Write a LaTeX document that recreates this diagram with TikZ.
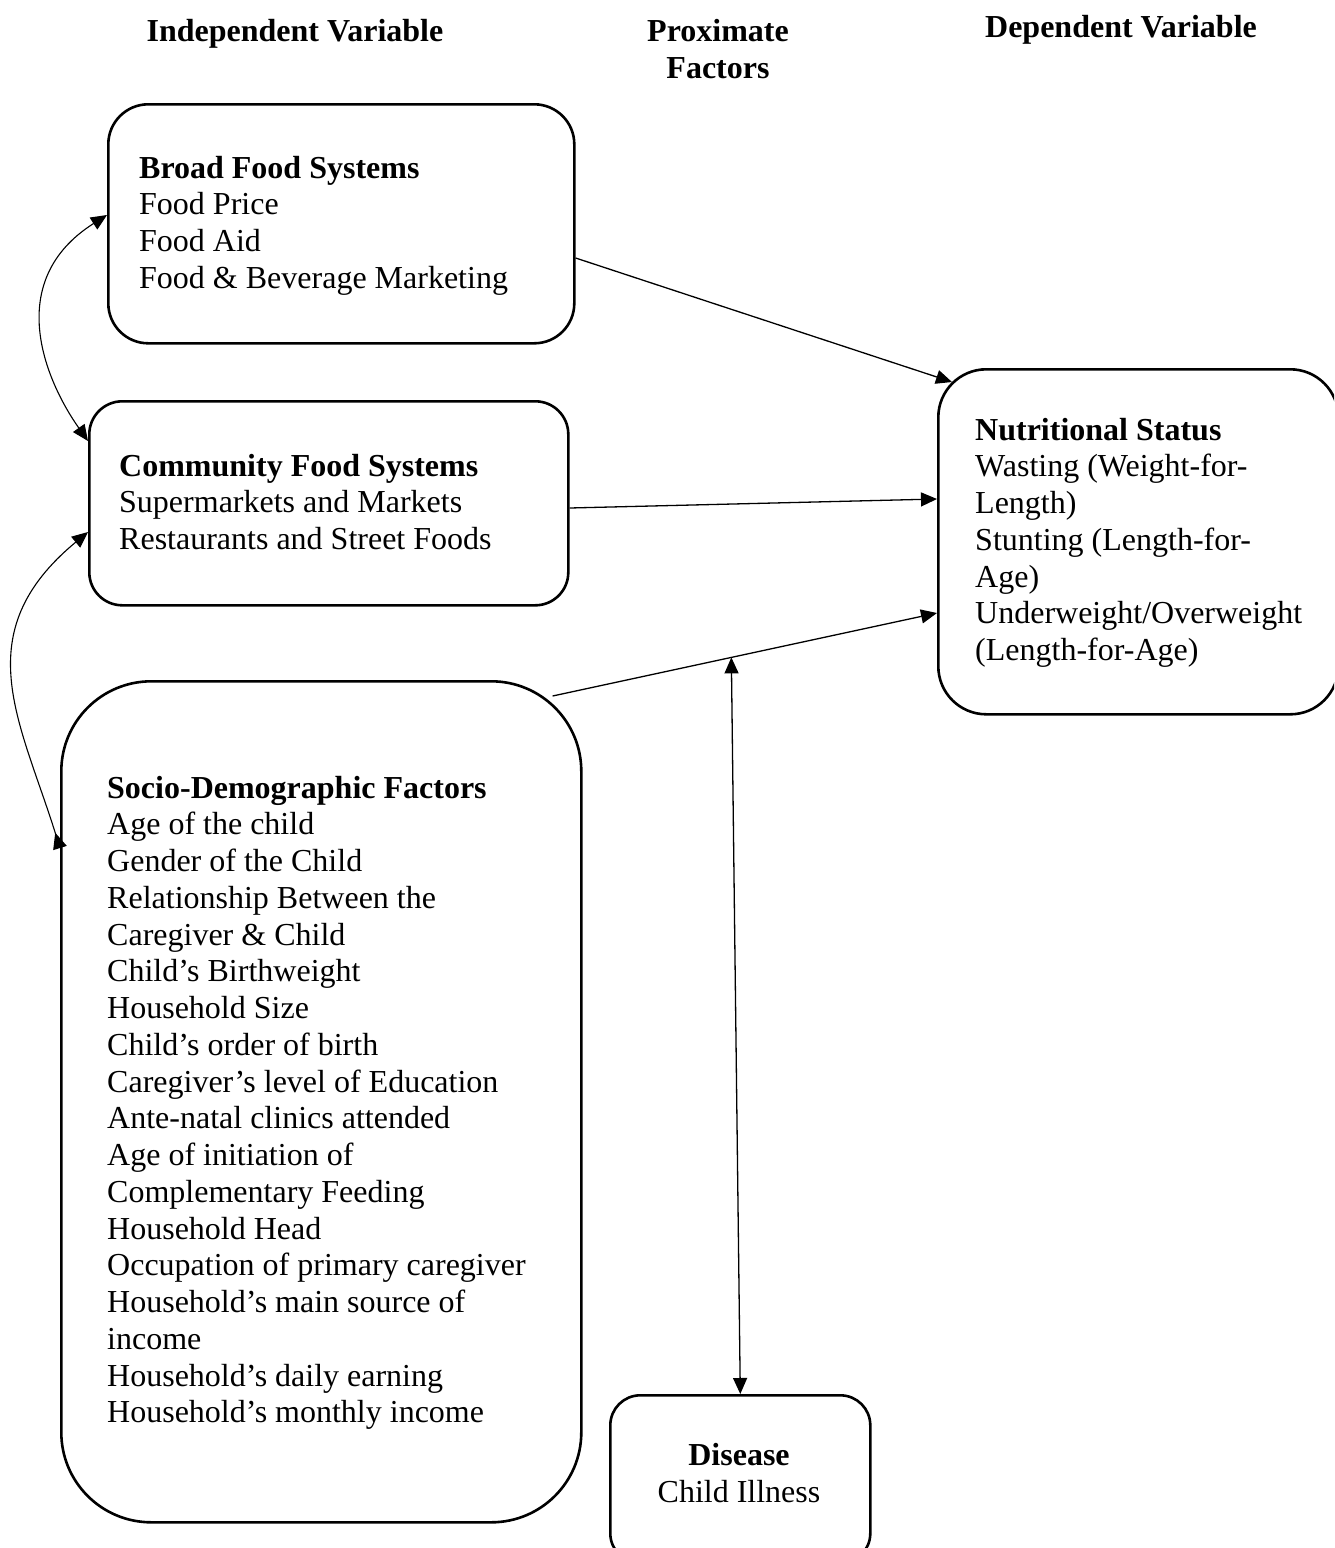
\documentclass[tikz,border=0pt]{standalone}
\usepackage{fontspec}
\setmainfont{Liberation Serif}
\usetikzlibrary{arrows.meta,calc}
\begin{document}
\begin{tikzpicture}[x=1pt,y=-1pt,
  box/.style={draw, line width=2.6pt, rounded corners=#1, inner sep=0pt, anchor=north west},
  txt/.style={anchor=base west, align=left, inner sep=0pt, font=\fontsize{32}{36.75}\selectfont},
  hdr/.style={anchor=base, align=center, inner sep=0pt, font=\fontsize{32}{36.75}\selectfont\bfseries},
  ctr/.style={anchor=base, align=center, inner sep=0pt, font=\fontsize{32}{36.75}\selectfont},
  tip/.tip={Triangle[length=16pt,width=14pt]},
  arr/.style={line width=1.3pt, -tip},
  darr/.style={line width=1.3pt, tip-tip},
  carr/.style={line width=1.1pt},
]
\useasboundingbox (0,0) rectangle (1334,1548);
\clip (0,0) rectangle (1334,1548);

% headers (anchor = baseline of the last line)
\node[hdr] (h1) at (295,41) {Independent Variable};
\node[hdr] (h2) at (718,78) {Proximate\\Factors};
\node[hdr] (h3) at (1121,37) {Dependent Variable};

% boxes
\node[box=40pt, minimum width=466pt, minimum height=239pt] (broad) at (107,103) {};
\node[box=33pt, minimum width=479pt, minimum height=204pt] (comm) at (88,400) {};
\node[box=90pt, minimum width=520pt, minimum height=841pt] (socio) at (60,680) {};
\node[box=48pt, minimum width=400pt, minimum height=345pt] (nutr) at (937,368) {};
\node[box=30pt, minimum width=260pt, minimum height=168pt] (disease) at (609,1394) {};

% texts (anchor = baseline of the last line)
\node[txt] (broadT) at (139,288.25) {\textbf{Broad Food Systems}\\Food Price\\Food Aid\\Food \& Beverage Marketing};
\node[txt] (commT) at (119,549.5) {\textbf{Community Food Systems}\\Supermarkets and Markets\\Restaurants and Street Foods};
\node[txt] (nutrT) at (975,660.5) {\textbf{Nutritional Status}\\Wasting (Weight-for-\\Length)\\Stunting (Length-for-\\Age)\\Underweight/Overweight\\(Length-for-Age)};
\node[txt] (socioT) at (107,1422.75) {\textbf{Socio-Demographic Factors}\\Age of the child\\Gender of the Child\\Relationship Between the\\Caregiver \& Child\\Child’s Birthweight\\Household Size\\Child’s order of birth\\Caregiver’s level of Education\\Ante-natal clinics attended\\Age of initiation of\\Complementary Feeding\\Household Head\\Occupation of primary caregiver\\Household’s main source of\\income\\Household’s daily earning\\Household’s monthly income};
\node[ctr] (diseaseT) at (739,1502) {\textbf{Disease}\\Child Illness};

% connectors
\coordinate (s3) at ($(socio.north east)+(-30,16)$);
\coordinate (e3) at (nutr.west |- 0,613);
\draw[arr] (broad.east |- 0,258) -- ($(nutr.north west)+(15,14)$);
\draw[arr] (comm.east |- 0,508) -- (nutr.west |- 0,499);
\draw[arr] (s3) -- (e3);
\coordinate (mid) at ($(s3)!0.465!(e3)$);
\draw[darr] (mid) -- (disease.north);

\draw[carr, tip-tip] (broad.west |- 0,215) .. controls (3,281) and (45,380) .. (comm.west |- 0,441);
\draw[carr, tip-{Triangle[length=16pt,width=14pt,reversed]}] (comm.west |- 0,532) .. controls (-34,633) and (20,720) .. (socio.west |- 0,848);
\end{tikzpicture}
\end{document}
